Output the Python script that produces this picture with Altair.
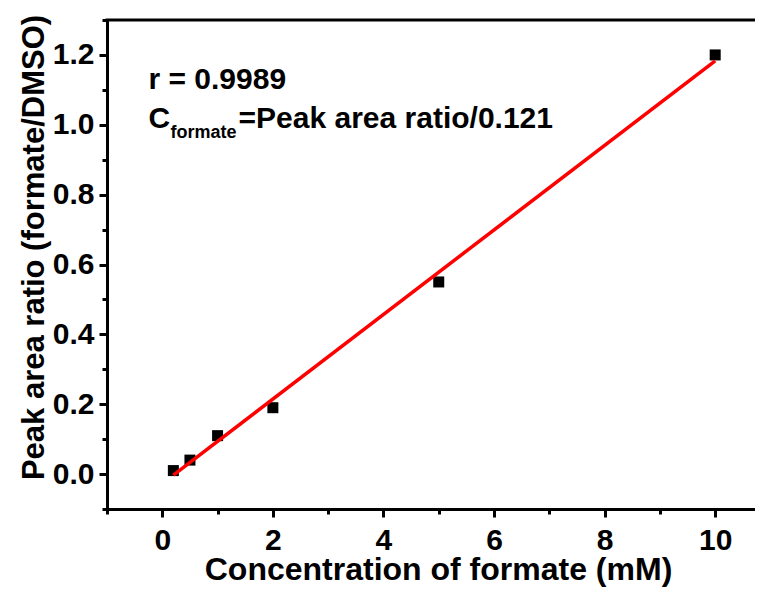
import altair as alt
import pandas as pd

# Data
conc = [0.2, 0.5, 1, 2, 5, 10]
ratio = [0.01, 0.04, 0.11, 0.19, 0.55, 1.20]

x_ticks = [-1, 0, 1, 2, 3, 4, 5, 6, 7, 8, 9, 10]
y_ticks = [-0.1, 0.0, 0.1, 0.2, 0.3, 0.4, 0.5, 0.6, 0.7, 0.8, 0.9, 1.0, 1.1, 1.2, 1.3]

ann_text = ["r = 0.9989", "C", "formate", "=Peak area ratio/0.121"]
ann_x = [-0.25, -0.25, 0.15, 1.38]
ann_y = [1.129, 1.016, 0.976, 1.016]
ann_size = [30, 30, 18, 30]

FONT = "Liberation Sans"

df = pd.DataFrame({"x": conc, "y": ratio})
ann = pd.DataFrame({"t": ann_text, "x": ann_x, "y": ann_y, "s": ann_size})
frame = pd.DataFrame({"k": [0]})

W, H = 648, 489

xscale = alt.Scale(domain=[-1, 10.72], nice=False, zero=False)
yscale = alt.Scale(domain=[-0.1, 1.3], nice=False, zero=False)

xaxis = alt.Axis(
    values=x_ticks, format="d",
    labelExpr="datum.value % 2 === 0 ? datum.label : ''",
    tickSize={"condition": {"test": "datum.value % 2 === 0", "value": 8}, "value": 5},
    tickWidth=3, tickColor="black",
    domainWidth=3, domainColor="black", domainCap="square",
    labelFont=FONT, labelFontSize=30, labelFontWeight="bold", labelColor="black",
    labelPadding=8, labelFlush=False, labelOverlap=False,
    title="Concentration of formate (mM)", titleFont=FONT, titleFontSize=32,
    titleFontWeight="bold", titleColor="black",
    titleX=331, titleY=70, titleAlign="center", titleBaseline="alphabetic",
    grid=False,
)

yaxis = alt.Axis(
    values=y_ticks, format=".1f",
    labelExpr="abs(round(datum.value * 10)) % 2 === 0 ? datum.label : ''",
    tickSize={"condition": {"test": "abs(round(datum.value * 10)) % 2 === 0", "value": 8}, "value": 5},
    tickWidth=3, tickColor="black",
    domainWidth=3, domainColor="black", domainCap="square",
    labelFont=FONT, labelFontSize=30, labelFontWeight="bold", labelColor="black",
    labelPadding=5, labelFlush=False, labelOverlap=False,
    title="Peak area ratio (formate/DMSO)", titleFont=FONT, titleFontSize=31,
    titleFontWeight="bold", titleColor="black",
    titleX=-64, titleY=227, titleAlign="center", titleBaseline="alphabetic", titleAngle=-90,
    grid=False,
)

points = alt.Chart(df).mark_square(size=121, color="black", opacity=1).encode(
    x=alt.X("x:Q", scale=xscale, axis=xaxis),
    y=alt.Y("y:Q", scale=yscale, axis=yaxis),
)

fit = alt.Chart(df).transform_regression("x", "y", extent=[0.2, 10]).mark_line(
    color="#ff0000", strokeWidth=3.5
).encode(
    x=alt.X("x:Q", scale=xscale, axis=xaxis),
    y=alt.Y("y:Q", scale=yscale, axis=yaxis),
)

labels = alt.Chart(ann).mark_text(
    align="left", baseline="middle", font=FONT, fontWeight="bold", color="black"
).encode(
    x=alt.X("x:Q", scale=xscale, axis=xaxis),
    y=alt.Y("y:Q", scale=yscale, axis=yaxis),
    text="t:N",
    size=alt.Size("s:Q", scale=None),
)

# top border of the frame (right border lies outside the reference crop)
top_border = alt.Chart(frame).mark_rule(color="black", strokeWidth=3, strokeCap="square").encode(
    x=alt.value(0), x2=alt.value(W), y=alt.value(0)
)

chart = alt.layer(points, fit, labels, top_border).properties(
    width=W, height=H,
    autosize="none",
    padding={"left": 99, "top": 12, "right": 0, "bottom": 80},
).configure_view(stroke=None)

chart.save("out.html", embed_options={"renderer": "svg", "actions": False})
